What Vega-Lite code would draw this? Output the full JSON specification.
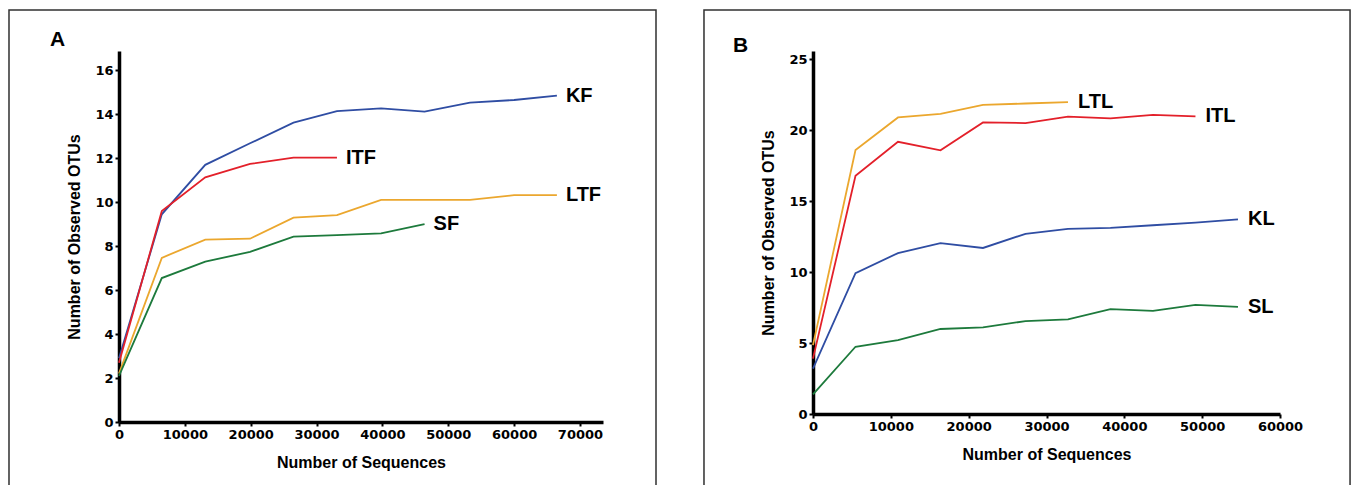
{
  "$schema": "https://vega.github.io/schema/vega-lite/v6.json",
  "background": "white",
  "padding": {"left": 8, "top": 9, "right": 0, "bottom": 0},
  "spacing": 46,
  "config": {
    "view": {"stroke": null},
    "axis": {
      "grid": false,
      "domainColor": "black",
      "domainWidth": 3.5,
      "tickColor": "black",
      "tickWidth": 2,
      "tickSize": 4,
      "labelFont": "DejaVu Sans",
      "labelFontWeight": "bold",
      "labelFontSize": 13,
      "labelColor": "black",
      "labelPadding": 2,
      "labelFlush": false,
      "titleFont": "Liberation Sans",
      "titleFontWeight": "bold",
      "titleFontSize": 16,
      "titleColor": "black"
    }
  },
  "datasets": {
    "a": [
      {"s": "KF", "x": 0, "y": 2.9}, {"s": "KF", "x": 6500, "y": 9.45}, {"s": "KF", "x": 13100, "y": 11.7}, {"s": "KF", "x": 19900, "y": 12.68}, {"s": "KF", "x": 26500, "y": 13.62}, {"s": "KF", "x": 33100, "y": 14.14}, {"s": "KF", "x": 39800, "y": 14.27}, {"s": "KF", "x": 46400, "y": 14.12}, {"s": "KF", "x": 53300, "y": 14.53}, {"s": "KF", "x": 60000, "y": 14.65}, {"s": "KF", "x": 66500, "y": 14.85},
      {"s": "ITF", "x": 0, "y": 2.7}, {"s": "ITF", "x": 6500, "y": 9.6}, {"s": "ITF", "x": 13100, "y": 11.13}, {"s": "ITF", "x": 19900, "y": 11.74}, {"s": "ITF", "x": 26500, "y": 12.03}, {"s": "ITF", "x": 33100, "y": 12.03},
      {"s": "LTF", "x": 0, "y": 2.2}, {"s": "LTF", "x": 6500, "y": 7.47}, {"s": "LTF", "x": 13100, "y": 8.3}, {"s": "LTF", "x": 19900, "y": 8.34}, {"s": "LTF", "x": 26500, "y": 9.3}, {"s": "LTF", "x": 33100, "y": 9.41}, {"s": "LTF", "x": 39800, "y": 10.11}, {"s": "LTF", "x": 46400, "y": 10.11}, {"s": "LTF", "x": 53300, "y": 10.11}, {"s": "LTF", "x": 60000, "y": 10.32}, {"s": "LTF", "x": 66500, "y": 10.32},
      {"s": "SF", "x": 0, "y": 2.1}, {"s": "SF", "x": 6500, "y": 6.55}, {"s": "SF", "x": 13100, "y": 7.3}, {"s": "SF", "x": 19900, "y": 7.74}, {"s": "SF", "x": 26500, "y": 8.43}, {"s": "SF", "x": 33100, "y": 8.5}, {"s": "SF", "x": 39800, "y": 8.58}, {"s": "SF", "x": 46400, "y": 9.0}
    ],
    "b": [
      {"s": "LTL", "x": 0, "y": 4.85}, {"s": "LTL", "x": 5460, "y": 18.6}, {"s": "LTL", "x": 10920, "y": 20.9}, {"s": "LTL", "x": 16380, "y": 21.15}, {"s": "LTL", "x": 21840, "y": 21.78}, {"s": "LTL", "x": 27300, "y": 21.88}, {"s": "LTL", "x": 32760, "y": 21.98},
      {"s": "ITL", "x": 0, "y": 3.9}, {"s": "ITL", "x": 5460, "y": 16.78}, {"s": "ITL", "x": 10920, "y": 19.18}, {"s": "ITL", "x": 16380, "y": 18.58}, {"s": "ITL", "x": 21840, "y": 20.55}, {"s": "ITL", "x": 27300, "y": 20.5}, {"s": "ITL", "x": 32760, "y": 20.95}, {"s": "ITL", "x": 38220, "y": 20.83}, {"s": "ITL", "x": 43680, "y": 21.08}, {"s": "ITL", "x": 49140, "y": 20.97},
      {"s": "KL", "x": 0, "y": 3.2}, {"s": "KL", "x": 5460, "y": 9.93}, {"s": "KL", "x": 10920, "y": 11.34}, {"s": "KL", "x": 16380, "y": 12.04}, {"s": "KL", "x": 21840, "y": 11.7}, {"s": "KL", "x": 27300, "y": 12.7}, {"s": "KL", "x": 32760, "y": 13.05}, {"s": "KL", "x": 38220, "y": 13.12}, {"s": "KL", "x": 43680, "y": 13.3}, {"s": "KL", "x": 49140, "y": 13.48}, {"s": "KL", "x": 54600, "y": 13.72},
      {"s": "SL", "x": 0, "y": 1.38}, {"s": "SL", "x": 5460, "y": 4.74}, {"s": "SL", "x": 10920, "y": 5.21}, {"s": "SL", "x": 16380, "y": 5.99}, {"s": "SL", "x": 21840, "y": 6.1}, {"s": "SL", "x": 27300, "y": 6.55}, {"s": "SL", "x": 32760, "y": 6.67}, {"s": "SL", "x": 38220, "y": 7.39}, {"s": "SL", "x": 43680, "y": 7.27}, {"s": "SL", "x": 49140, "y": 7.69}, {"s": "SL", "x": 54600, "y": 7.55}
    ]
  },
  "hconcat": [
    {
      "width": 484,
      "height": 371,
      "layer": [
        {
          "data": {"name": "a"},
          "mark": {"type": "line", "strokeWidth": 1.8},
          "encoding": {
            "x": {"field": "x", "type": "quantitative", "scale": {"domain": [0, 73500], "nice": false, "zero": false},
                  "axis": {"title": "Number of Sequences", "values": [0, 10000, 20000, 30000, 40000, 50000, 60000, 70000], "format": "d", "titlePadding": 13}},
            "y": {"field": "y", "type": "quantitative", "scale": {"domain": [0, 16.88], "nice": false, "zero": false},
                  "axis": {"title": "Number of Observed OTUs", "values": [0, 2, 4, 6, 8, 10, 12, 14, 16], "titlePadding": 12}},
            "color": {"field": "s", "type": "nominal", "legend": null,
                      "scale": {"domain": ["KF", "ITF", "LTF", "SF"], "range": ["#2F4DA3", "#E3202A", "#EBA72E", "#1D7A3C"]}}
          }
        },
        {
          "data": {"values": [{"p": "A"}]},
          "mark": {"type": "rect", "filled": false, "stroke": "#303030", "strokeWidth": 1.5},
          "encoding": {
            "x": {"datum": -16705, "type": "quantitative"},
            "x2": {"datum": 81549},
            "y": {"datum": 18.745, "type": "quantitative"},
            "y2": {"datum": -3.59}
          }
        },
        {
          "data": {"values": [{"p": "A"}]},
          "mark": {"type": "text", "align": "left", "baseline": "middle", "font": "Liberation Sans", "fontWeight": "bold", "fontSize": 21, "color": "black"},
          "encoding": {
            "x": {"datum": -10478, "type": "quantitative"},
            "y": {"datum": 17.38, "type": "quantitative"},
            "text": {"field": "p"}
          }
        },
        {
          "data": {"name": "a"},
          "transform": [
            {"joinaggregate": [{"op": "max", "field": "x", "as": "mx"}], "groupby": ["s"]},
            {"filter": "datum.x === datum.mx"}
          ],
          "mark": {"type": "text", "align": "left", "baseline": "middle", "dx": 9, "font": "Liberation Sans", "fontWeight": "bold", "fontSize": 20, "color": "black"},
          "encoding": {
            "x": {"field": "x", "type": "quantitative"},
            "y": {"field": "y", "type": "quantitative"},
            "text": {"field": "s"}
          }
        }
      ]
    },
    {
      "width": 467,
      "height": 363,
      "layer": [
        {
          "data": {"name": "b"},
          "mark": {"type": "line", "strokeWidth": 1.8},
          "encoding": {
            "x": {"field": "x", "type": "quantitative", "scale": {"domain": [0, 60000], "nice": false, "zero": false},
                  "axis": {"title": "Number of Sequences", "values": [0, 10000, 20000, 30000, 40000, 50000, 60000], "format": "d", "titlePadding": 13}},
            "y": {"field": "y", "type": "quantitative", "scale": {"domain": [0, 25.58], "nice": false, "zero": false},
                  "axis": {"title": "Number of Observed OTUs", "values": [0, 5, 10, 15, 20, 25], "titlePadding": 12}},
            "color": {"field": "s", "type": "nominal", "legend": null,
                      "scale": {"domain": ["KL", "ITL", "LTL", "SL"], "range": ["#2F4DA3", "#E3202A", "#EBA72E", "#1D7A3C"]}}
          }
        },
        {
          "data": {"values": [{"p": "B"}]},
          "mark": {"type": "rect", "filled": false, "stroke": "#303030", "strokeWidth": 1.5},
          "encoding": {
            "x": {"datum": -14006, "type": "quantitative"},
            "x2": {"datum": 69000},
            "y": {"datum": 28.47, "type": "quantitative"},
            "y2": {"datum": -6.13}
          }
        },
        {
          "data": {"values": [{"p": "B"}]},
          "mark": {"type": "text", "align": "left", "baseline": "middle", "font": "Liberation Sans", "fontWeight": "bold", "fontSize": 21, "color": "black"},
          "encoding": {
            "x": {"datum": -10280, "type": "quantitative"},
            "y": {"datum": 25.93, "type": "quantitative"},
            "text": {"field": "p"}
          }
        },
        {
          "data": {"name": "b"},
          "transform": [
            {"joinaggregate": [{"op": "max", "field": "x", "as": "mx"}], "groupby": ["s"]},
            {"filter": "datum.x === datum.mx"}
          ],
          "mark": {"type": "text", "align": "left", "baseline": "middle", "dx": 10, "font": "Liberation Sans", "fontWeight": "bold", "fontSize": 20, "color": "black"},
          "encoding": {
            "x": {"field": "x", "type": "quantitative"},
            "y": {"field": "y", "type": "quantitative"},
            "text": {"field": "s"}
          }
        }
      ]
    }
  ]
}
